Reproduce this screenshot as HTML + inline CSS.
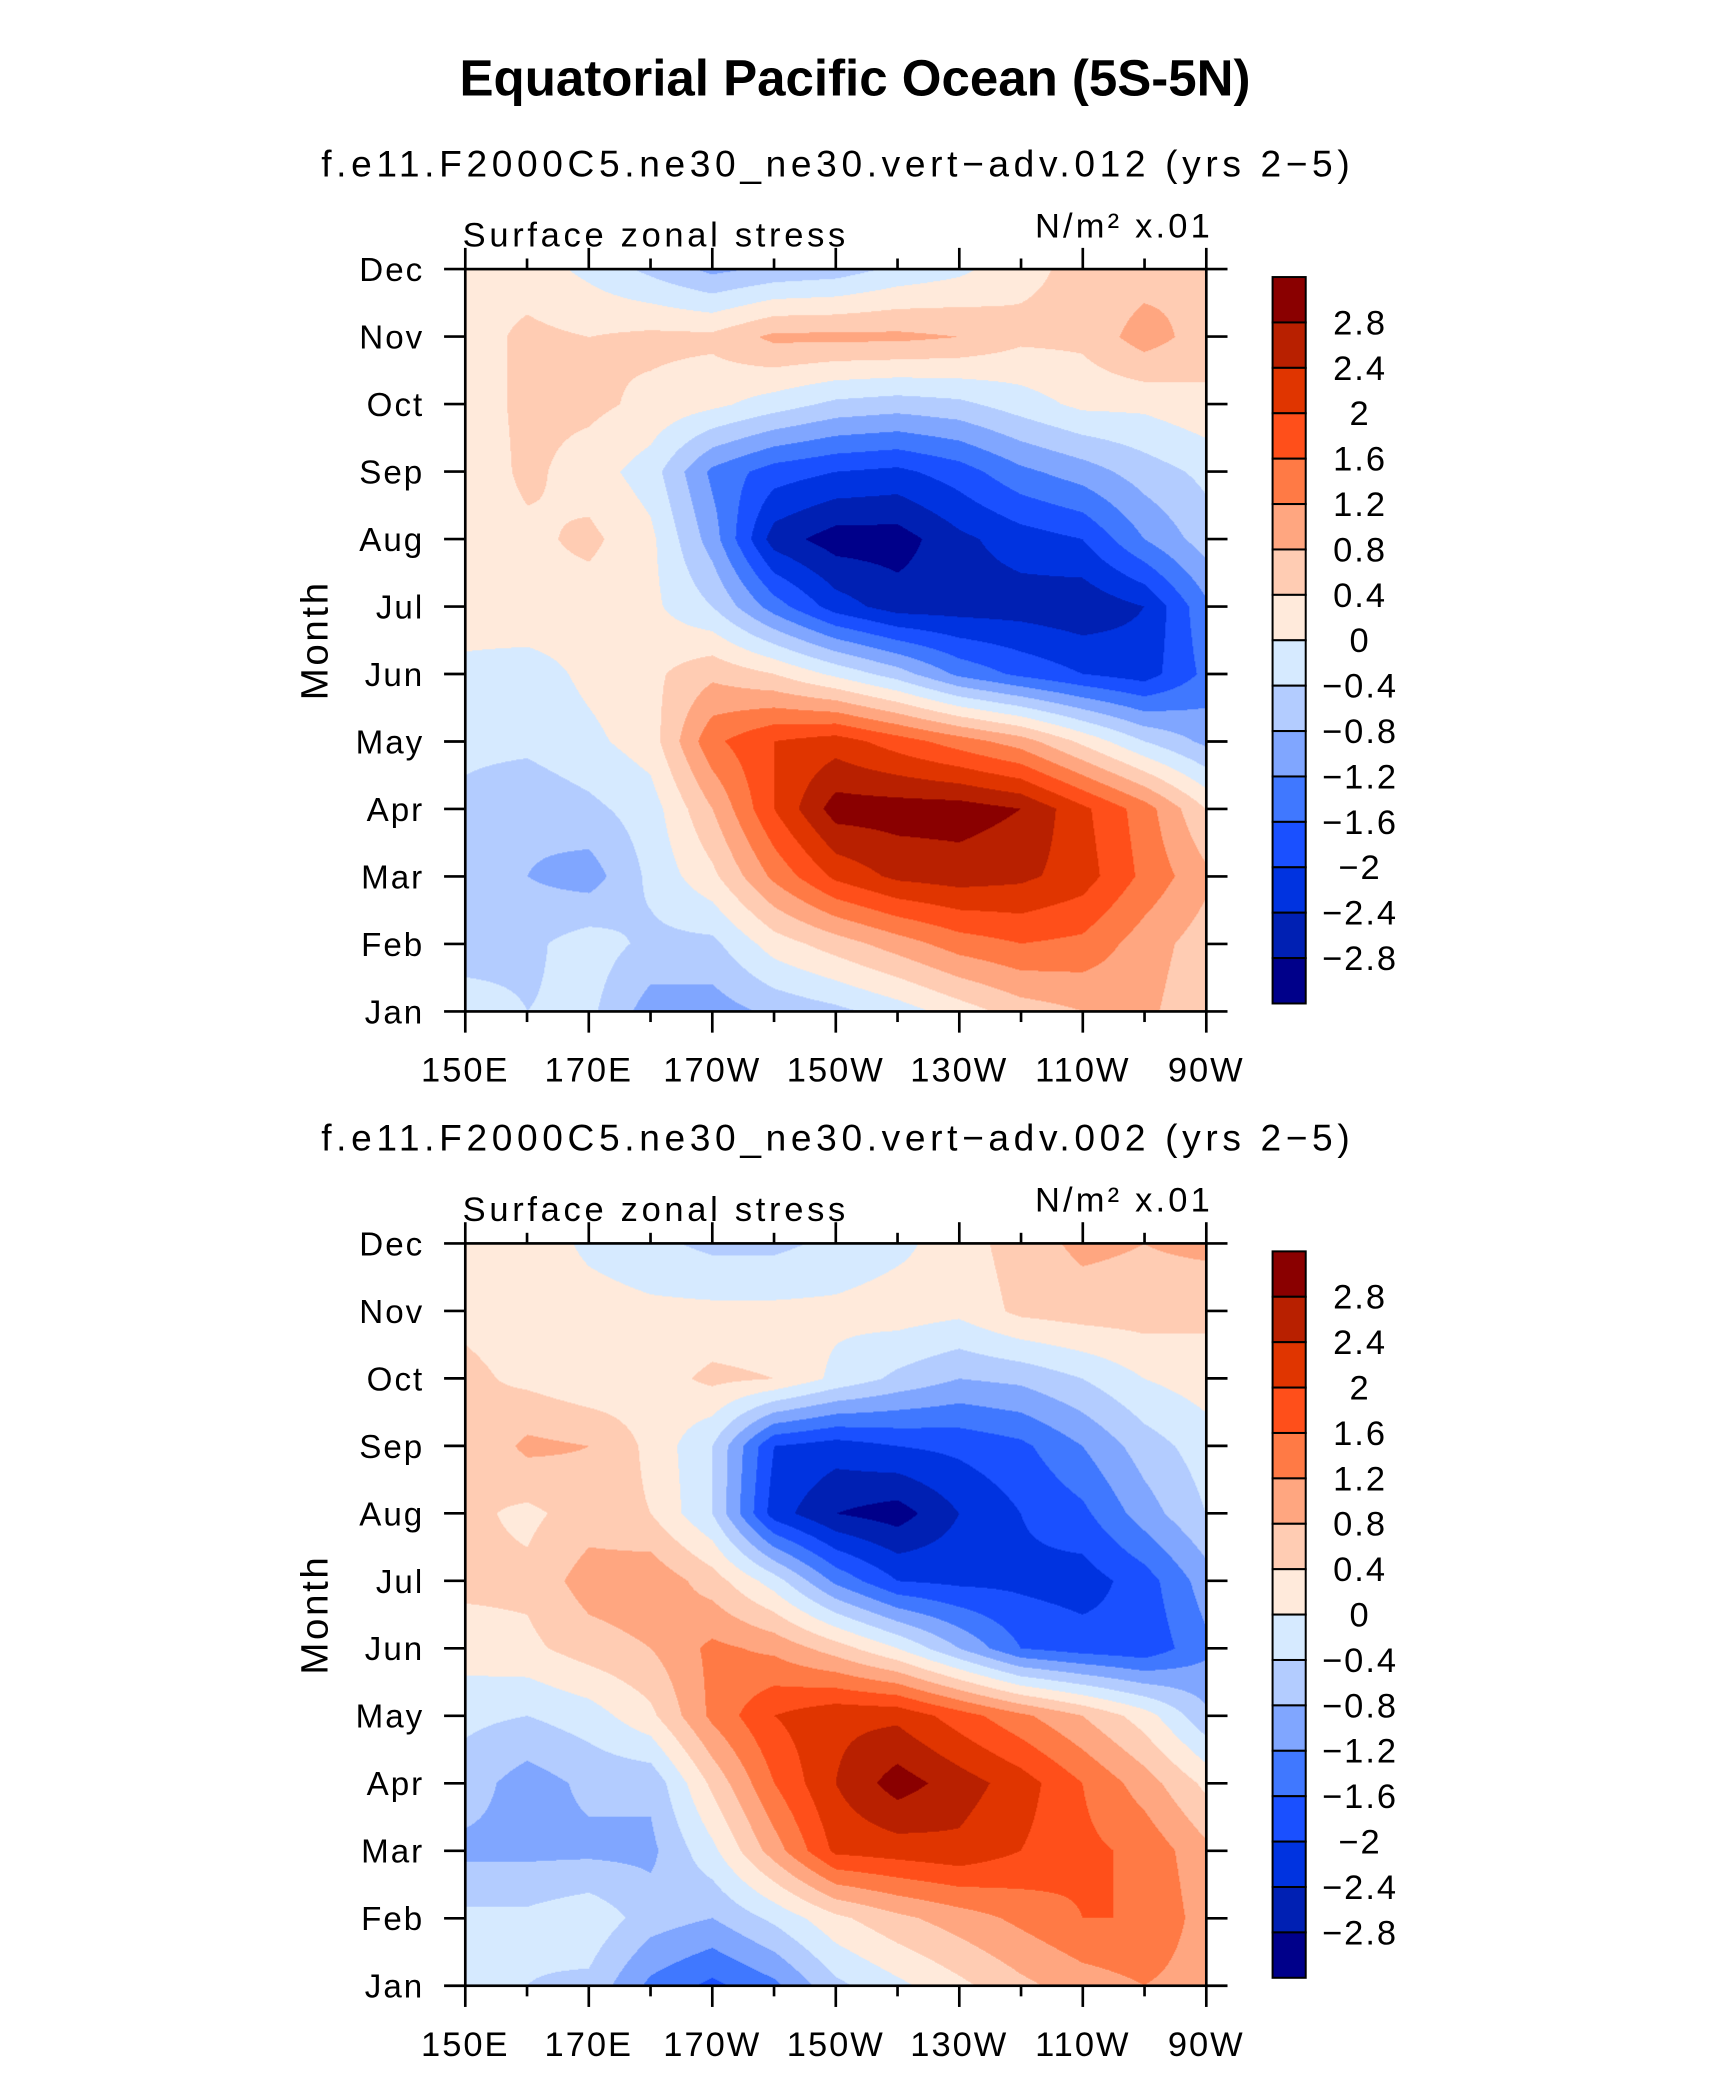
<!DOCTYPE html>
<html><head><meta charset="utf-8"><style>
html,body{margin:0;padding:0;background:#fff;width:1710px;height:2080px;overflow:hidden}
#page{position:absolute;left:0;top:0;width:1300px;height:1581px;transform:scale(1.3256);transform-origin:0 0}
canvas{position:absolute}
svg{position:absolute;left:0;top:0}
text{font-family:"Liberation Sans",sans-serif;fill:#000}
</style></head><body>
<div id="page">
<canvas id="c1" width="741" height="742" style="left:351px;top:203px;width:559px;height:560px"></canvas>
<canvas id="c2" width="741" height="742" style="left:351px;top:938px;width:559px;height:560px"></canvas>
<svg id="s" width="1300" height="1581">
<text x="645" y="72" text-anchor="middle" font-size="38.5" font-weight="bold">Equatorial Pacific Ocean (5S-5N)</text>
</svg>
</div>
<script>
const months=["Jan","Feb","Mar","Apr","May","Jun","Jul","Aug","Sep","Oct","Nov","Dec"];
const lonLabels=["150E","170E","170W","150W","130W","110W","90W"];
const levels=[-2.8,-2.4,-2,-1.6,-1.2,-0.8,-0.4,0,0.4,0.8,1.2,1.6,2,2.4,2.8];
const colors=["#00008a","#0020b3","#0033e0","#1a50ff","#4078ff","#80a6ff","#b3ccff","#d6eaff","#ffeadb","#ffccb3","#ffa680","#ff7a45","#ff4f1a","#e03500","#b82000","#8a0000"];
const titles=["f.e11.F2000C5.ne30_ne30.vert\u2212adv.012 (yrs 2\u22125)","f.e11.F2000C5.ne30_ne30.vert\u2212adv.002 (yrs 2\u22125)"];
// rows Jan..Dec, cols 150E..90W every 10deg
const field1=[
[-0.2,-0.4,-0.3,-1.0,-1.0,-0.7,-0.5,-0.2,0.2,0.6,0.8,0.9,0.5],
[-0.6,-0.5,-0.2,-0.5,-0.5,0.2,0.6,1.0,1.4,1.6,1.5,1.0,0.6],
[-0.6,-0.8,-1.0,-0.3,0.3,1.3,2.1,2.5,2.6,2.5,2.2,1.5,0.9],
[-0.5,-0.7,-0.5,-0.2,0.8,2.0,3.0,3.0,3.0,2.8,2.1,1.4,0.4],
[-0.3,-0.3,-0.1,0.2,1.5,2.0,2.2,1.8,1.4,1.0,0.3,-0.4,-0.9],
[-0.1,-0.2,0.1,0.3,0.7,0.4,-0.1,-0.6,-1.3,-1.7,-2.0,-2.2,-1.5],
[0.2,0.3,0.2,0.1,-0.4,-1.4,-2.2,-2.6,-2.6,-2.6,-2.7,-2.4,-1.3],
[0.2,0.3,0.5,0.1,-1.0,-2.6,-3.0,-3.0,-2.5,-2.2,-2.0,-1.2,-0.6],
[0.1,0.5,0.2,-0.2,-1.3,-1.8,-2.0,-2.1,-1.8,-1.3,-1.0,-0.6,-0.3],
[0.2,0.5,0.5,0.3,0.1,-0.2,-0.5,-0.6,-0.5,-0.2,0.1,0.1,0.3],
[0.2,0.5,0.4,0.5,0.5,0.9,0.9,0.9,0.8,0.5,0.5,1.0,0.6],
[0.3,0.2,-0.1,-0.5,-0.9,-0.7,-0.6,-0.3,-0.1,0.3,0.5,0.6,0.8]];
const field2=[
[-0.2,-0.4,-0.5,-1.3,-1.7,-1.3,-0.5,-0.1,0.3,0.7,1.0,1.2,1.0],
[-0.3,-0.3,-0.1,-0.6,-0.8,-0.3,0.3,0.7,1.0,1.3,1.6,1.6,1.0],
[-0.9,-0.9,-0.9,-0.9,-0.1,1.0,2.1,2.2,2.3,2.0,1.7,1.5,0.9],
[-0.6,-1.0,-0.7,-0.7,0.5,1.6,2.4,3.0,2.6,2.2,1.6,1.0,0.3],
[-0.3,-0.4,-0.2,0.3,1.3,2.0,2.3,2.3,1.8,1.3,0.8,0.2,-0.7],
[0.2,0.3,0.6,0.8,1.3,1.1,0.6,0.0,-0.8,-1.6,-1.8,-1.9,-1.3],
[0.5,0.5,1.0,1.1,0.6,-0.2,-1.3,-2.0,-2.1,-2.1,-2.2,-1.8,-1.0],
[0.5,0.3,0.6,0.4,-0.4,-2.2,-2.8,-3.0,-2.4,-2.0,-1.7,-1.0,-0.4],
[0.4,0.9,0.8,0.3,-0.4,-2.0,-2.2,-2.0,-1.9,-1.7,-1.2,-0.6,-0.2],
[0.5,0.3,0.1,0.2,0.5,0.4,-0.1,-0.5,-0.8,-0.7,-0.4,0.0,0.2],
[0.3,0.2,0.2,0.1,0.1,0.1,0.1,0.2,0.1,0.5,0.6,0.6,0.5],
[0.2,0.3,-0.1,-0.3,-0.5,-0.5,-0.3,-0.1,0.2,0.6,0.9,0.8,0.9]];

function hex(h){return [parseInt(h.substr(1,2),16),parseInt(h.substr(3,2),16),parseInt(h.substr(5,2),16)];}
const rgb=colors.map(hex);
function levelIdx(v){let i=0;while(i<levels.length&&v>=levels[i])i++;return i;}
function drawField(cv,f){
 const ctx=cv.getContext('2d'),W=cv.width,H=cv.height,img=ctx.createImageData(W,H);
 const nc=f[0].length-1,nr=f.length-1;
 for(let py=0;py<H;py++){
  const fy=(1-py/(H-1))*nr,r0=Math.min(Math.floor(fy),nr-1),ty=fy-r0;
  for(let px=0;px<W;px++){
   const fx=px/(W-1)*nc,c0=Math.min(Math.floor(fx),nc-1),tx=fx-c0;
   const v=(f[r0][c0]*(1-tx)+f[r0][c0+1]*tx)*(1-ty)+(f[r0+1][c0]*(1-tx)+f[r0+1][c0+1]*tx)*ty;
   const c=rgb[levelIdx(v)],k=(py*W+px)*4;
   img.data[k]=c[0];img.data[k+1]=c[1];img.data[k+2]=c[2];img.data[k+3]=255;
  }}
 ctx.putImageData(img,0,0);
}
drawField(document.getElementById('c1'),field1);
drawField(document.getElementById('c2'),field2);

const svg=document.getElementById('s'),NS="http://www.w3.org/2000/svg";
function el(t,a,txt){const e=document.createElementNS(NS,t);for(const k in a)e.setAttribute(k,a[k]);if(txt!==undefined)e.textContent=txt;svg.appendChild(e);return e;}
const X0=351,X1=910;
function xs(i){return X0+(X1-X0)*i/12;}
function panel(p,top){
 const bot=top+560;
 const ys=m=>bot-(bot-top)*m/11;
 let t=el('text',{x:632,y:top-70,'text-anchor':'middle','font-size':28,'letter-spacing':3.5},titles[p]);
 
 t=el('text',{x:349,y:top-17,'font-size':26,'letter-spacing':2.8},'Surface zonal stress');
 
 t=el('text',{x:915,y:top-24,'text-anchor':'end','font-size':26,'letter-spacing':2.4},'N/m\u00B2 x.01');
 
 t=el('rect',{x:X0,y:top,width:X1-X0,height:bot-top,fill:'none',stroke:'#000','stroke-width':2});
 
 for(let m=0;m<12;m++){
  const y=ys(m);
  t=el('line',{x1:X0-16,x2:X0,y1:y,y2:y,stroke:'#000','stroke-width':2});
  
  t=el('line',{x1:X1,x2:X1+16,y1:y,y2:y,stroke:'#000','stroke-width':2});
  
  t=el('text',{x:320,y:y+9,'text-anchor':'end','font-size':25,'letter-spacing':1.5},months[m]);
  
 }
 for(let i=0;i<=12;i++){
  const x=xs(i),L=i%2===0?16:8;
  t=el('line',{x1:x,x2:x,y1:bot,y2:bot+L,stroke:'#000','stroke-width':2});
  
  t=el('line',{x1:x,x2:x,y1:top,y2:top-L,stroke:'#000','stroke-width':2});
  
 }
 lonLabels.forEach((s,i)=>{
  const t=el('text',{x:xs(i*2),y:bot+53,'text-anchor':'middle','font-size':26,'letter-spacing':1.5},s);
  
 });
 t=el('text',{x:0,y:0,'text-anchor':'middle','font-size':29,'letter-spacing':2,transform:`translate(247,${(top+bot)/2}) rotate(-90)`},'Month');
 
 const cb0=top+6,cbh=548/16;
 for(let k=0;k<16;k++){
  const r=el('rect',{x:960,y:cb0+k*cbh,width:25,height:cbh,fill:colors[15-k],stroke:'#000','stroke-width':1.5});
  
 }
 for(let k=0;k<15;k++){
  const v=levels[14-k];
  const s=(v<0?'\u2212':'')+String(Math.abs(v));
  const r=el('text',{x:1026,y:cb0+(k+1)*cbh+9,'text-anchor':'middle','font-size':26,'letter-spacing':1.5},s);
  
 }
}
panel(0,203);panel(1,938);
</script>
</body></html>
